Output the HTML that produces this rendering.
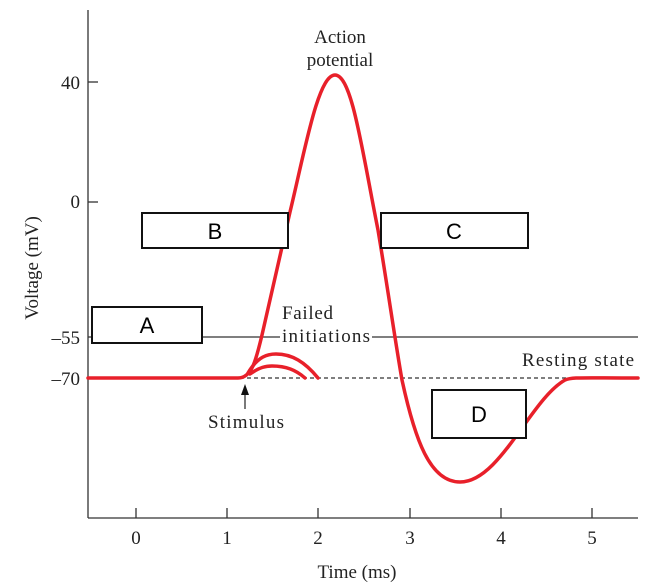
<!DOCTYPE html>
<html><head><meta charset="utf-8"><style>
html,body{margin:0;padding:0;background:#fff;}
svg{display:block;}
text{font-family:"Liberation Serif",serif;fill:#222;}
.b{font-family:"Liberation Sans",sans-serif;font-size:22px;fill:#000;}
</style></head><body>
<svg width="659" height="585" viewBox="0 0 659 585" xmlns="http://www.w3.org/2000/svg">
<g stroke="#333" stroke-width="1.3" fill="none">
<line x1="88" y1="10" x2="88" y2="518"/>
<line x1="88" y1="518" x2="638" y2="518"/>
<line x1="136" y1="518" x2="136" y2="508"/>
<line x1="227" y1="518" x2="227" y2="508"/>
<line x1="318" y1="518" x2="318" y2="508"/>
<line x1="410" y1="518" x2="410" y2="508"/>
<line x1="501" y1="518" x2="501" y2="508"/>
<line x1="592" y1="518" x2="592" y2="508"/>
<line x1="88" y1="82" x2="98" y2="82"/>
<line x1="88" y1="202" x2="98" y2="202"/>
<line x1="88" y1="337" x2="280" y2="337"/>
<line x1="372" y1="337" x2="638" y2="337"/>
<line x1="240" y1="378" x2="638" y2="378" stroke-dasharray="4,3"/>
<line x1="245" y1="409" x2="245" y2="392"/>
</g>
<polygon points="245,384 241,395 249,395" fill="#111"/>
<g fill="none" stroke="#e8202a" stroke-width="3.5" stroke-linejoin="round" stroke-linecap="round">
<path d="M88,378 L238,378 C252,378 256,360 262,335 L290,212 C305,150 318,75 335,75 C352,75 362,150 378,230 C388,290 395,340 402,380 C415,440 430,482 460,482 C500,482 530,400 565,380 C572,377 580,378 638,378"/>
<path d="M248,373 C258,356 268,354 276,354 C292,354 305,362 318,378"/>
<path d="M250,374 C260,367 266,366 272,366 C286,366 296,370 305,378"/>
</g>
<g fill="#fff" stroke="#111" stroke-width="2">
<rect x="142" y="213" width="146" height="35"/>
<rect x="381" y="213" width="147" height="35"/>
<rect x="92" y="307" width="110" height="36"/>
<rect x="432" y="390" width="94" height="48"/>
</g>
<text class="b" x="215" y="239" text-anchor="middle">B</text>
<text class="b" x="454" y="239" text-anchor="middle">C</text>
<text class="b" x="147" y="333" text-anchor="middle">A</text>
<text class="b" x="479" y="422" text-anchor="middle">D</text>
<g font-size="19">
<text x="80" y="89" text-anchor="end">40</text>
<text x="80" y="208" text-anchor="end">0</text>
<text x="80" y="344" text-anchor="end">–55</text>
<text x="80" y="385" text-anchor="end">–70</text>
<text x="136" y="544" text-anchor="middle">0</text>
<text x="227" y="544" text-anchor="middle">1</text>
<text x="318" y="544" text-anchor="middle">2</text>
<text x="410" y="544" text-anchor="middle">3</text>
<text x="501" y="544" text-anchor="middle">4</text>
<text x="592" y="544" text-anchor="middle">5</text>
<text x="357" y="578" text-anchor="middle">Time (ms)</text>
<text transform="translate(38,268) rotate(-90)" text-anchor="middle">Voltage (mV)</text>
<text x="340" y="43" text-anchor="middle">Action</text>
<text x="340" y="66" text-anchor="middle">potential</text>
<text x="282" y="319" textLength="51">Failed</text>
<text x="282" y="342" textLength="88">initiations</text>
<text x="522" y="366" textLength="112">Resting state</text>
<text x="208" y="428" textLength="76">Stimulus</text>
</g>
</svg>
</body></html>
